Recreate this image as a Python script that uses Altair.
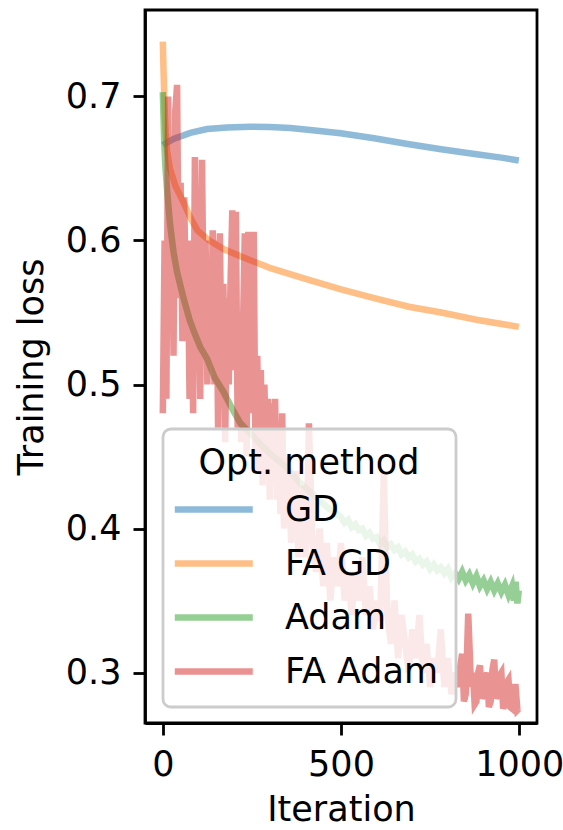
import altair as alt
import pandas as pd

# ---- data ----
gd_it = [0, 30, 77, 124, 180, 246, 300, 358, 420, 499, 593, 687, 781, 875, 950, 999]
gd_loss = [0.6663, 0.6705, 0.6747, 0.6774, 0.6785, 0.6790, 0.6788, 0.6780, 0.6765, 0.6744,
           0.6710, 0.6670, 0.6633, 0.6600, 0.6575, 0.6555]

fagd_it = [0, 2, 4, 6, 8, 12, 20, 35, 57, 77, 97, 130, 170, 218, 300, 405, 500, 593, 690, 781, 880, 999]
fagd_loss = [0.738, 0.718, 0.700, 0.686, 0.675, 0.662, 0.650, 0.638, 0.627, 0.616, 0.607, 0.600,
             0.594, 0.589, 0.581, 0.573, 0.566, 0.560, 0.554, 0.550, 0.545, 0.540]

adam_it = [0, 2, 4, 7, 12, 20, 30, 40, 57, 75, 90, 105, 124, 145, 170, 195, 218, 250, 280, 310,
           340, 380, 420, 460, 500, 510, 520, 530, 540, 550, 560, 570, 580, 590, 600, 610, 620,
           630, 640, 650, 660, 670, 680, 690, 700, 710, 720, 730, 740, 750, 760, 770, 780, 790,
           800, 810, 820, 830, 840, 850, 860, 870, 880, 890, 900, 910, 920, 930, 940, 950, 960,
           970, 980, 985, 990, 995, 999]
adam_loss = [0.703, 0.685, 0.668, 0.652, 0.635, 0.612, 0.592, 0.578, 0.561, 0.545, 0.535, 0.526,
             0.518, 0.505, 0.495, 0.483, 0.473, 0.465, 0.457, 0.450, 0.444, 0.433, 0.424, 0.415,
             0.408, 0.404, 0.406, 0.401, 0.403, 0.399, 0.400, 0.395, 0.397, 0.393, 0.394, 0.389,
             0.392, 0.387, 0.389, 0.385, 0.387, 0.382, 0.384, 0.380, 0.382, 0.377, 0.379, 0.375,
             0.377, 0.372, 0.375, 0.371, 0.373, 0.369, 0.372, 0.366, 0.369, 0.365, 0.370, 0.364,
             0.368, 0.362, 0.367, 0.360, 0.364, 0.358, 0.363, 0.357, 0.362, 0.356, 0.361, 0.354,
             0.360, 0.350, 0.363, 0.348, 0.357]

faadam_it = [0, 5, 10, 15, 20, 25, 30, 35, 40, 45, 50, 55, 60, 65, 70, 75, 80, 85, 90, 95,
             100, 105, 110, 115, 120, 125, 130, 135, 140, 145, 150, 155, 160, 165, 170, 175,
             180, 185, 190, 195, 200, 205, 210, 215, 220, 225, 230, 235, 240, 245, 250, 255,
             260, 265, 270, 275, 280, 285, 290, 295, 300, 305, 310, 315, 320, 325, 330, 335,
             340, 345, 350, 355, 360, 365, 370, 375, 380, 385, 390, 395, 400, 405, 410, 420,
             430, 440, 450, 460, 470, 480, 490, 500, 510, 520, 530, 540, 550, 560, 570, 580,
             590, 600, 610, 620, 630, 640, 650, 660, 670, 680, 690, 700, 710, 720, 730, 740,
             750, 760, 770, 780, 790, 800, 810, 820, 830, 835, 840, 845, 850, 857, 865, 870,
             875, 880, 885, 890, 895, 900, 905, 910, 915, 920, 925, 930, 935, 940, 945, 950,
             955, 960, 965, 970, 975, 980, 985, 990, 995, 999]
faadam_loss = [0.480, 0.600, 0.490, 0.700, 0.550, 0.660, 0.520, 0.690, 0.708, 0.560, 0.640,
               0.530, 0.630, 0.550, 0.600, 0.490, 0.590, 0.480, 0.658, 0.560, 0.605, 0.490,
               0.656, 0.540, 0.600, 0.500, 0.580, 0.520, 0.607, 0.500, 0.600, 0.470, 0.605,
               0.510, 0.570, 0.460, 0.560, 0.500, 0.570, 0.621, 0.510, 0.620, 0.470, 0.550,
               0.460, 0.540, 0.605, 0.450, 0.606, 0.480, 0.550, 0.606, 0.450, 0.520, 0.440,
               0.510, 0.430, 0.500, 0.450, 0.490, 0.420, 0.487, 0.440, 0.490, 0.420, 0.460,
               0.410, 0.480, 0.400, 0.450, 0.420, 0.440, 0.390, 0.430, 0.400, 0.440, 0.380,
               0.420, 0.390, 0.430, 0.380, 0.410, 0.473, 0.390, 0.370, 0.400, 0.360, 0.390,
               0.350, 0.380, 0.360, 0.390, 0.350, 0.370, 0.340, 0.370, 0.350, 0.380, 0.340,
               0.360, 0.330, 0.350, 0.336, 0.438, 0.340, 0.320, 0.350, 0.310, 0.340, 0.320,
               0.300, 0.330, 0.310, 0.340, 0.300, 0.320, 0.290, 0.310, 0.300, 0.330, 0.290,
               0.310, 0.285, 0.300, 0.290, 0.305, 0.313, 0.280, 0.285, 0.341, 0.290, 0.300,
               0.278, 0.280, 0.300, 0.305, 0.282, 0.285, 0.296, 0.300, 0.276, 0.280, 0.302,
               0.309, 0.282, 0.285, 0.298, 0.300, 0.275, 0.278, 0.293, 0.295, 0.276, 0.275,
               0.290, 0.290, 0.274, 0.275]

series_names = ["GD", "FA GD", "Adam", "FA Adam"]
series_colors = ["#1f77b4", "#ff7f0e", "#2ca02c", "#d62728"]

frames = []
for name, its, vals in [("GD", gd_it, gd_loss), ("FA GD", fagd_it, fagd_loss),
                        ("Adam", adam_it, adam_loss), ("FA Adam", faadam_it, faadam_loss)]:
    frames.append(pd.DataFrame({"Iteration": its, "Loss": vals, "Method": name}))
df = pd.concat(frames, ignore_index=True)

FONT = "DejaVu Sans"

x_enc = alt.X("Iteration:Q", scale=alt.Scale(domain=[-50, 1050], nice=False, zero=False),
              axis=alt.Axis(values=[0, 500, 1000], format="d", title="Iteration",
                            titlePadding=10))
y_enc = alt.Y("Loss:Q", scale=alt.Scale(domain=[0.265, 0.76], nice=False, zero=False),
              axis=alt.Axis(values=[0.3, 0.4, 0.5, 0.6, 0.7], format=".1f",
                            title="Training loss", titlePadding=16))
color_enc = alt.Color("Method:N",
                      scale=alt.Scale(domain=series_names, range=series_colors),
                      sort=series_names,
                      legend=alt.Legend(title="Opt. method", orient="none",
                                        legendX=18, legendY=419))

layers = []
for name in series_names:
    layers.append(
        alt.Chart(df).transform_filter(alt.datum.Method == name)
        .mark_line(strokeWidth=6.5, opacity=0.5, strokeCap="butt", strokeJoin="miter")
        .encode(x=x_enc, y=y_enc, color=color_enc)
    )

chart = alt.layer(*layers).properties(
    width=392, height=713,
    autosize=alt.AutoSizeParams(type="none"),
    padding={"left": 145, "top": 10, "right": 26, "bottom": 107},
).configure_view(
    stroke="black", strokeWidth=2.8
).configure_axis(
    labelFont=FONT, labelFontSize=35, labelColor="black",
    titleFont=FONT, titleFontSize=35, titleFontWeight="normal", titleColor="black",
    domainColor="black", domainWidth=2.8, tickColor="black", tickWidth=2.8,
    tickSize=12, labelPadding=12, grid=False
).configure_legend(
    titleFont=FONT, titleFontSize=35, titleFontWeight="normal", titleColor="black",
    titleLimit=400, labelLimit=400,
    labelFont=FONT, labelFontSize=35, labelColor="black",
    titleAnchor="middle", titleAlign="center",
    symbolType="M-2.33,0H5.67", symbolSize=380, symbolStrokeWidth=6.5, symbolOpacity=0.5,
    labelOffset=70, padding=17, rowPadding=18, titlePadding=11,
    fillColor="rgba(255,255,255,0.8)", strokeColor="#cccccc", strokeWidth=2.8,
    cornerRadius=8
)

chart.save("out.html", embed_options={"renderer": "svg", "actions": False})
